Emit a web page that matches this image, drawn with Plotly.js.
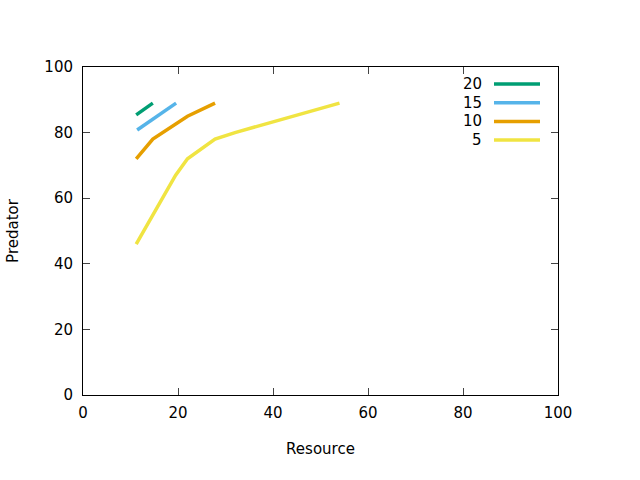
<!DOCTYPE html>
<html>
<head>
<meta charset="utf-8">
<script src="https://cdn.plot.ly/plotly-3.0.1.min.js"></script>
<style>body{margin:0}#plot{width:640px;height:480px}</style>
</head>
<body>
<div id="plot"></div>
<script>
// series, drawn back to front so 20 ends up on top
const seriesNames = ['5', '10', '15', '20'];
const seriesColors = ['#f0e442', '#e69f00', '#56b4e9', '#009e73'];
const resource = [
    [11.2, 19.5, 22, 27.8, 32, 54],
    [11.2, 14.7, 22, 27.8],
    [11.4, 19.6],
    [11.2, 14.7]
];
const predator = [
    [46, 67, 72, 78, 80, 89],
    [72, 78, 85, 89],
    [80.8, 89],
    [85.4, 89]
];

const traces = seriesNames.map((n, i) => ({
    x: resource[i], y: predator[i],
    type: 'scatter', mode: 'lines', name: n,
    line: {color: seriesColors[i], width: 3.5},
    hoverinfo: 'skip'
}));

// gnuplot-style legend: label right-aligned, sample line to its right
const annotations = [], shapes = [];
seriesNames.forEach((n, i) => {
    const row = seriesNames.length - 1 - i;
    const y = (395 - (84 + row * 18.7)) / 328;
    annotations.push({
        xref: 'paper', yref: 'paper', x: (484 - 83) / 475, y: y,
        xanchor: 'right', yanchor: 'middle', text: n, showarrow: false,
        font: {size: 15, color: '#000'}
    });
    shapes.push({
        type: 'line', xref: 'paper', yref: 'paper',
        x0: (494 - 83) / 475, x1: (540 - 83) / 475, y0: y, y1: y,
        line: {color: seriesColors[i], width: 3.5}
    });
});

const axis = {
    range: [0, 100], dtick: 20, ticks: 'inside', ticklen: 7,
    mirror: 'allticks', showline: true, linecolor: '#000', linewidth: 1,
    showgrid: false, zeroline: false, tickfont: {size: 15, color: '#000'}
};

const layout = {
    width: 640, height: 480,
    margin: {l: 83, r: 82, t: 67, b: 85},
    paper_bgcolor: '#fff', plot_bgcolor: '#fff',
    font: {family: 'DejaVu Sans, sans-serif', color: '#000'},
    xaxis: Object.assign({}, axis, {ticklabelstandoff: 4, title: {text: 'Resource', font: {size: 15}, standoff: 22}}),
    yaxis: Object.assign({}, axis, {ticklabelstandoff: 6, title: {text: 'Predator', font: {size: 15}, standoff: 22}}),
    showlegend: false,
    annotations: annotations,
    shapes: shapes
};

Plotly.newPlot('plot', traces, layout, {displayModeBar: false, staticPlot: true});
</script>
</body>
</html>
